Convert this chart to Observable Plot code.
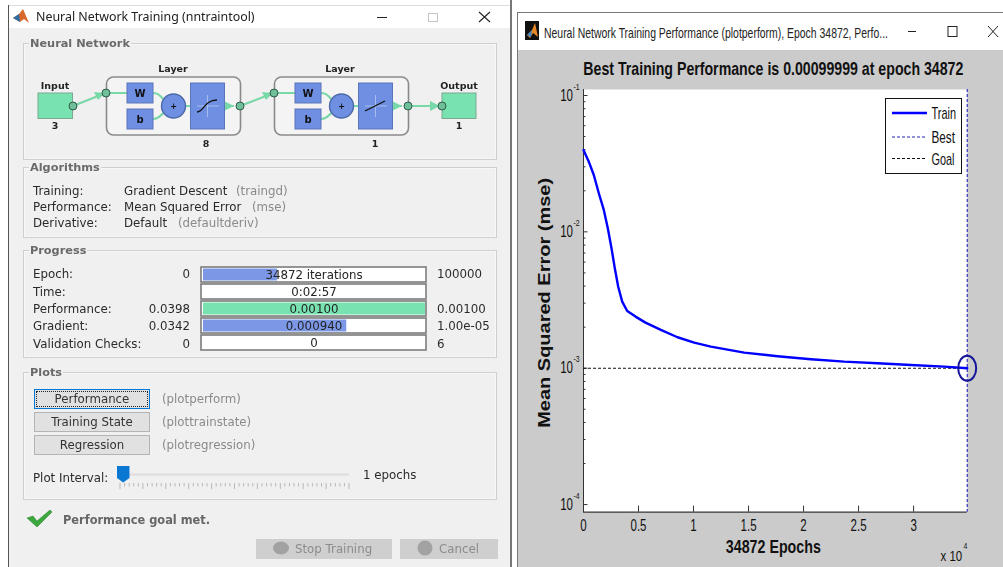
<!DOCTYPE html>
<html><head><meta charset="utf-8">
<script src="https://cdn.jsdelivr.net/npm/d3@7"></script>
<script src="https://cdn.jsdelivr.net/npm/@observablehq/plot@0.6"></script>
<style>
html,body{margin:0;padding:0;background:#fff;overflow:hidden}
#page{position:relative;width:1003px;height:567px;overflow:hidden;background:#fff}
.a{position:absolute;white-space:nowrap;line-height:1}
#left{position:absolute;left:0;top:0;width:512px;height:567px;font-family:"DejaVu Sans",sans-serif;font-size:11.8px;color:#2a2a2a;filter:blur(.35px)}
.group{position:absolute;left:23px;width:472px;border:1px solid #cfcfcf;box-shadow:inset 0 0 0 1px #f7f7f7}
.gl{position:absolute;left:29px;background:#f0f0f0;padding:0 1px;font-weight:bold;color:#6a6a6a;font-size:11.3px;line-height:1;white-space:nowrap}
.btn{position:absolute;left:34px;width:114px;height:18px;background:#e1e1e1;border:1px solid #b4b4b4;text-align:center;line-height:18px;font-size:11.8px;color:#333}
</style></head><body><div id="page"></div>
<script>
// ---- performance chart data ----
const epochs = [0,482,936,1391,1845,2209,2545,2845,3155,3518,3973,4727,5636,7030,8545,10061,11576,14606,17636,20667,23697,26727,29758,32788,34872];
const mse = [0.0398,0.0327,0.0261,0.0192,0.01448,0.01062,0.00759,0.00541,0.00396,0.00308,0.00263,0.00239,0.00216,0.00191,0.001687,0.00154,0.00144,0.0013,0.001225,0.001164,0.001117,0.001088,0.001057,0.001027,0.00099999];
const bestEpoch = 34872, bestPerf = 0.00099999, goal = 0.001;
const yDecades = [0.1,0.01,0.001,0.0001];
const yExponents = ["-1","-2","-3","-4"];
const yMinor = [0.09,0.08,0.07,0.06,0.05,0.04,0.03,0.02,0.009,0.008,0.007,0.006,0.005,0.004,0.003,0.002,0.0009,0.0008,0.0007,0.0006,0.0005,0.0004,0.0003,0.0002];
const xTicks = [0,5000,10000,15000,20000,25000,30000];
const xLabels = ["0","0.5","1","1.5","2","2.5","3"];
const legendNames = ["Train","Best","Goal"];
// ---- progress table data ----
const rows = ["Epoch:","Time:","Performance:","Gradient:","Validation Checks:"];
const rowStart = ["0","","0.0398","0.0342","0"];
const rowEnd = ["100000","","0.00100","1.00e-05","6"];
const rowText = ["34872 iterations","0:02:57","0.00100","0.000940","0"];
const rowFill = [0.342,0,1,0.65,0];
const rowColor = ["#7b97e6","#7b97e6","#78e3b0","#7b97e6","#7b97e6"];

const page = document.getElementById("page");
const SANS = '"Liberation Sans",sans-serif';

/* ========= left window ========= */
const left = document.createElement("div"); left.id = "left"; page.appendChild(left);
function box(x,y,w,h,css){const d=document.createElement("div");d.className="a";d.style.cssText=`left:${x}px;top:${y}px;width:${w}px;height:${h}px;`+(css||"");left.appendChild(d);return d;}
function txt(s,x,yc,css,anchor){const d=document.createElement("div");d.className="a";d.textContent=s;
  d.style.cssText=`left:${x}px;top:${yc+1.3}px;transform:translate(${anchor==="end"?"-100%":anchor==="middle"?"-50%":"0"},-50%);`+(css||"");left.appendChild(d);return d;}
box(8,5,502,562,"background:#f0f0f0;border-left:1px solid #555;");
box(9,5,501,22,"background:#fff;border-top:1px solid #ddd;");
txt("Neural Network Training (nntraintool)",36,15.5,'font-family:"Noto Sans";font-size:12.4px;color:#222');
function group(title,y,h){const g=document.createElement("div");g.className="group";g.style.top=y+"px";g.style.height=h+"px";left.appendChild(g);
  const l=document.createElement("div");l.className="gl";l.textContent=title;l.style.top=(y-5.5)+"px";left.appendChild(l);}
group("Neural Network",43,115);group("Algorithms",167,69);group("Progress",250,106);group("Plots",372,126);
[["Training:","Gradient Descent","(traingd)",191,236],["Performance:","Mean Squared Error","(mse)",207,252],["Derivative:","Default","(defaultderiv)",222.5,178]].forEach(r=>{
  txt(r[0],33,r[3]);txt(r[1],124,r[3]);txt(r[2],r[4],r[3],"color:#8a8a8a");});
rows.forEach((r,i)=>{const y=274+i*17.3;txt(r,33,y);txt(rowStart[i],190,y,"","end");txt(rowEnd[i],437,y);});
[["Performance","(plotperform)",389],["Training State","(plottrainstate)",412],["Regression","(plotregression)",435]].forEach((b,i)=>{
  const d=document.createElement("div");d.className="btn";d.textContent=b[0];d.style.top=b[2]+"px";
  if(i===0){d.style.border="1px solid #0078d7";d.style.outline="1px dotted #222";d.style.outlineOffset="-3px";}
  left.appendChild(d);txt(b[1],162,b[2]+9.5,"color:#8a8a8a");});
txt("Plot Interval:",33,478);txt("1 epochs",363,475);
txt("Performance goal met.",63,519.5,"font-weight:bold;color:#666;font-size:11.4px");

function wrap(dx){
  const c="#78d8a8";
  return `<g transform="translate(${dx},0)">
  <rect x="106.5" y="77" width="134" height="58" rx="7" fill="#f4f4f4" stroke="#8a8a8a" stroke-width="1.6"/>
  <path d="M106 93H127M153 93C160 93 160 97 165 100M153 119C160 119 160 115 165 112M185 106H190M224 106H234" stroke="${c}" stroke-width="2.2" fill="none"/>
  <polygon points="224,101 234,106 224,111" fill="${c}"/>
  <rect x="127" y="83" width="26" height="20" fill="#6f8fe2" stroke="#5a75b8"/><rect x="127" y="109" width="26" height="20" fill="#6f8fe2" stroke="#5a75b8"/>
  <text x="140" y="97" text-anchor="middle" font-weight="bold" font-size="10" fill="#111">W</text><text x="140" y="123" text-anchor="middle" font-weight="bold" font-size="10" fill="#111">b</text>
  <circle cx="173.5" cy="106" r="12" fill="#6f8fe2" stroke="#4d6aa8" stroke-width="1.4"/><text x="173.5" y="109" text-anchor="middle" font-weight="bold" font-size="8" fill="#111">+</text>
  <rect x="190.5" y="83" width="34" height="46" fill="#6f8fe2" stroke="#5a75b8"/><path d="M197 106H219M207.5 95V117" stroke="#a8bcf0" stroke-width="1"/>
  </g>`;}
const node=(x,y)=>`<circle cx="${x}" cy="${y}" r="4" fill="#6fbf98" stroke="#2f5d49" stroke-width="1"/>`;
const svgLeft=`<svg width="512" height="567" style="position:absolute;left:0;top:0" font-family="DejaVu Sans">
  <polygon points="13,18 19,14 23,9 29,23 24,19 20,22" fill="#d9662a"/><polygon points="13,18 19,14 20,22" fill="#2a6ea8"/>
  <path d="M377 17.5H387" stroke="#222"/><rect x="428.5" y="13.5" width="9" height="8" fill="none" stroke="#c4c4c4"/><path d="M479 12L490 22M490 12L479 22" stroke="#222" stroke-width="1.1"/>
  ${wrap(0)}${wrap(168)}
  <path d="M197 112C204 112 204 100 217 100" stroke="#111" stroke-width="1.3" fill="none"/><path d="M365 111L385 101" stroke="#111" stroke-width="1.3" fill="none"/>
  <rect x="38" y="93" width="34.5" height="25.5" fill="#78e3b0" stroke="#7aa890"/><rect x="442" y="93" width="34" height="25.5" fill="#78e3b0" stroke="#7aa890"/>
  <path d="M73 106L98 96M240 106L266 96M408 106H432" stroke="#78d8a8" stroke-width="2.2"/>
  <polygon points="94,92 105,93 98,100" fill="#78d8a8"/><polygon points="262,92 273,93 266,100" fill="#78d8a8"/><polygon points="430,101 440,106 430,111" fill="#78d8a8"/>
  ${[[73,106],[106,93],[240,106],[274,93],[408,106],[442,106]].map(p=>node(p[0],p[1])).join("")}
  <g font-size="9.5" font-weight="bold" fill="#222" text-anchor="middle"><text x="55" y="89">Input</text><text x="459" y="89">Output</text><text x="173" y="72">Layer</text><text x="340" y="72">Layer</text>
  <text x="55" y="129">3</text><text x="459" y="129">1</text><text x="206" y="147">8</text><text x="375" y="147">1</text></g>
  <path d="M120 474.5H349" stroke="#dcdcdc" stroke-width="2"/>
  <polygon points="117,466 129.5,466 129.5,478 123.2,482.5 117,478" fill="#0a78d2"/>
  <path d="${d3.range(0,51).map(i=>`M${(120+i*4.58).toFixed(1)} 483V${i%5===0?489:486.5}`).join("")}" stroke="#b8b8b8"/>
  <path d="M27 518L33 516L37 521L50 510L52 512L37 527Z" fill="#3aa83c" stroke="#2a7d2c" stroke-width=".5"/>
  <rect x="256" y="539" width="136" height="20" fill="#cfcfcf"/><rect x="400" y="539" width="98" height="20" fill="#cfcfcf"/>
  <ellipse cx="281" cy="548" rx="8" ry="6.5" fill="#a2a2a2"/><circle cx="425" cy="548" r="7.5" fill="#a2a2a2"/>
  <text x="295" y="553" font-size="11.8" fill="#8c8c8c">Stop Training</text><text x="439" y="553" font-size="11.8" fill="#8c8c8c">Cancel</text>
</svg>`;
const holder=document.createElement("div");holder.innerHTML=svgLeft;left.appendChild(holder.firstChild);

/* progress bars through Plot */
const table = rows.map((r,i)=>({row:r,text:rowText[i],fill:rowFill[i],color:rowColor[i]}));
const bars = Plot.plot({
  width:225,height:85,margin:0,
  style:{background:"transparent",fontFamily:'"DejaVu Sans"',overflow:"visible"},
  x:{domain:[0,1],axis:null},
  y:{domain:rows,axis:null,paddingInner:0.12,paddingOuter:0},
  color:{type:"identity"},
  marks:[
    Plot.barX(table,{x1:0,x2:1,y:"row",fill:"white",stroke:"#7c7c7c",strokeWidth:1.6}),
    Plot.barX(table.filter(d=>d.fill>0),{x1:0,x2:"fill",y:"row",fill:"color",insetTop:1.5,insetBottom:1.5,insetLeft:2,insetRight:1}),
    Plot.text(table,{x:0.5,y:"row",text:"text",fontSize:11.8,fill:"#222"})
  ]
});
bars.style.position="absolute";bars.style.left="201px";bars.style.top="266px";left.appendChild(bars);

/* ========= right window ========= */
function rbox(x,y,w,h,css){const d=document.createElement("div");d.className="a";d.style.cssText=`left:${x}px;top:${y}px;width:${w}px;height:${h}px;`+(css||"");page.appendChild(d);return d;}
rbox(510,0,1.5,567,"background:#777;");
rbox(517,12,486,555,"background:#fff;border-left:1px solid #777;border-top:1px solid #777;box-sizing:border-box;");
rbox(518,50,485,517,"background:#cbcbcb;");
const cap=document.createElement("div");cap.className="a";
cap.style.cssText=`left:544px;top:31.5px;font-family:${SANS};font-size:15px;color:#222;transform-origin:left center;`;
cap.textContent="Neural Network Training Performance (plotperform), Epoch 34872, Perfo...";
page.appendChild(cap);
const capW=cap.getBoundingClientRect().width;
cap.style.transform=`translateY(-50%) scaleX(${344/capW})`;
const ctl=document.createElement("div");
ctl.innerHTML=`<svg width="1003" height="60" style="position:absolute;left:0;top:0">
  <rect x="525" y="21" width="14" height="19" fill="#111"/><polygon points="527,35 532,30 535,23 538,37 533,33 530,38" fill="#e8882a"/><polygon points="527,35 532,30 531,37" fill="#3a86c8"/>
  <path d="M908 31.5H916" stroke="#222" stroke-width="1"/><rect x="948" y="26.5" width="9" height="10" fill="none" stroke="#222"/><path d="M988 26L998 37M998 26L988 37" stroke="#222"/></svg>`;
page.appendChild(ctl.firstChild);

const W=485,H=517,mL=65,mR=36.3,mT=39,mB=55.3,pw=W-mL-mR,ph=H-mT-mB;
const ellipse={draw(c,size){const rx=9,ry=12.5,kx=rx*.5523,ky=ry*.5523;c.moveTo(rx,0);
  c.bezierCurveTo(rx,ky,kx,ry,0,ry);c.bezierCurveTo(-kx,ry,-rx,ky,-rx,0);c.bezierCurveTo(-rx,-ky,-kx,-ry,0,-ry);c.bezierCurveTo(kx,-ry,rx,-ky,rx,0);c.closePath();}};
const series=epochs.map((e,i)=>({e,v:mse[i]}));
const chart=Plot.plot({
  width:W,height:H,marginLeft:mL,marginRight:mR,marginTop:mT,marginBottom:mB,
  style:{background:"transparent",fontFamily:SANS,overflow:"visible",color:"#111"},
  x:{domain:[0,bestEpoch],axis:null},
  y:{type:"log",domain:[10**-4.056,10**-0.956],axis:null},
  marks:[
    Plot.frame({fill:"white",stroke:"none"}),
    Plot.ruleX([0],{stroke:"#333",strokeWidth:1}),
    Plot.ruleY([10**-4.056],{stroke:"#333",strokeWidth:1.2}),
    Plot.tickY(yDecades,{y:d=>d,stroke:"#333",insetRight:pw-4.5}),
    Plot.tickY(yMinor,{y:d=>d,stroke:"#333",insetRight:pw-2.5}),
    Plot.tickX(xTicks,{x:d=>d,stroke:"#333",insetTop:ph-6}),
    Plot.axisX(xTicks,{tickSize:0,tickPadding:7,tickFormat:(d,i)=>xLabels[i],fontSize:16,label:null}),
    Plot.axisY(yDecades,{tickSize:0,tickPadding:10.5,tickFormat:()=>"10",fontSize:16,label:null}),
    Plot.text(yDecades,{x:0,y:d=>d,text:(d,i)=>yExponents[i],dx:-7,dy:-9,textAnchor:"middle",fontSize:9.5}),
    Plot.ruleY([goal],{stroke:"#111",strokeWidth:1.1,strokeDasharray:"3,2"}),
    Plot.ruleX([bestEpoch],{stroke:"#2222bb",strokeWidth:1.1,strokeDasharray:"3,2"}),
    Plot.line(series,{x:"e",y:"v",stroke:"#0000ff",strokeWidth:2.4}),
    Plot.dot([{e:bestEpoch,v:bestPerf}],{x:"e",y:"v",symbol:ellipse,stroke:"#15159a",strokeWidth:2,fill:"none",r:5}),
    Plot.text(["Best Training Performance is 0.00099999 at epoch 34872"],{frameAnchor:"top",lineAnchor:"middle",dy:-20.5,dx:-2,fontWeight:"bold",fontSize:19,fill:"#111"}),
    Plot.text(["34872 Epochs"],{frameAnchor:"bottom",lineAnchor:"middle",dy:35,dx:-2,fontWeight:"bold",fontSize:19,fill:"#111"}),
    Plot.text(["Mean Squared Error (mse)"],{frameAnchor:"left",textAnchor:"middle",lineAnchor:"middle",dx:-39,dy:2,rotate:-90,fontWeight:"bold",fontSize:17,fill:"#111"}),
    Plot.text(["x 10"],{frameAnchor:"bottom-right",lineAnchor:"middle",dy:43.5,dx:-5,textAnchor:"end",fontSize:15.5,fill:"#111"}),
    Plot.text(["4"],{frameAnchor:"bottom-right",lineAnchor:"middle",dy:33.5,dx:0,textAnchor:"end",fontSize:9.5,fill:"#111"})
  ]
});
chart.style.position="absolute";chart.style.left="518px";chart.style.top="50px";page.appendChild(chart);

/* the reference's lettering is horizontally condensed: fit each text to its measured width */
const fixedLengths={"Best Training Performance is 0.00099999 at epoch 34872":380,"34872 Epochs":95,"Mean Squared Error (mse)":250,"x 10":21.7};
chart.querySelectorAll("text").forEach(t=>{
  const s=t.textContent.trim();
  const len=fixedLengths[s]||t.getComputedTextLength()*0.72;
  t.setAttribute("textLength",len);t.setAttribute("lengthAdjust","spacingAndGlyphs");
});

/* legend */
const lg=rbox(885,98,77,75.5,"background:#fff;border:1px solid #111;box-sizing:border-box;");
const styles=[{s:"#0000ff",w:2.4,d:""},{s:"#2222bb",w:1.1,d:"3,2"},{s:"#111",w:1.1,d:"3,2"}];
const ly=[14,38,59.5],lw=[24.5,23.5,23];
lg.innerHTML=`<svg width="75" height="73" style="position:absolute;left:0;top:0">${legendNames.map((n,i)=>
 `<line x1="6" x2="41" y1="${ly[i]}" y2="${ly[i]}" stroke="${styles[i].s}" stroke-width="${styles[i].w}" stroke-dasharray="${styles[i].d}"/>
  <text x="45.5" y="${ly[i]+6}" font-family="Liberation Sans" font-size="17" fill="#111" textLength="${lw[i]}" lengthAdjust="spacingAndGlyphs">${n}</text>`).join("")}</svg>`;
</script></body></html>
